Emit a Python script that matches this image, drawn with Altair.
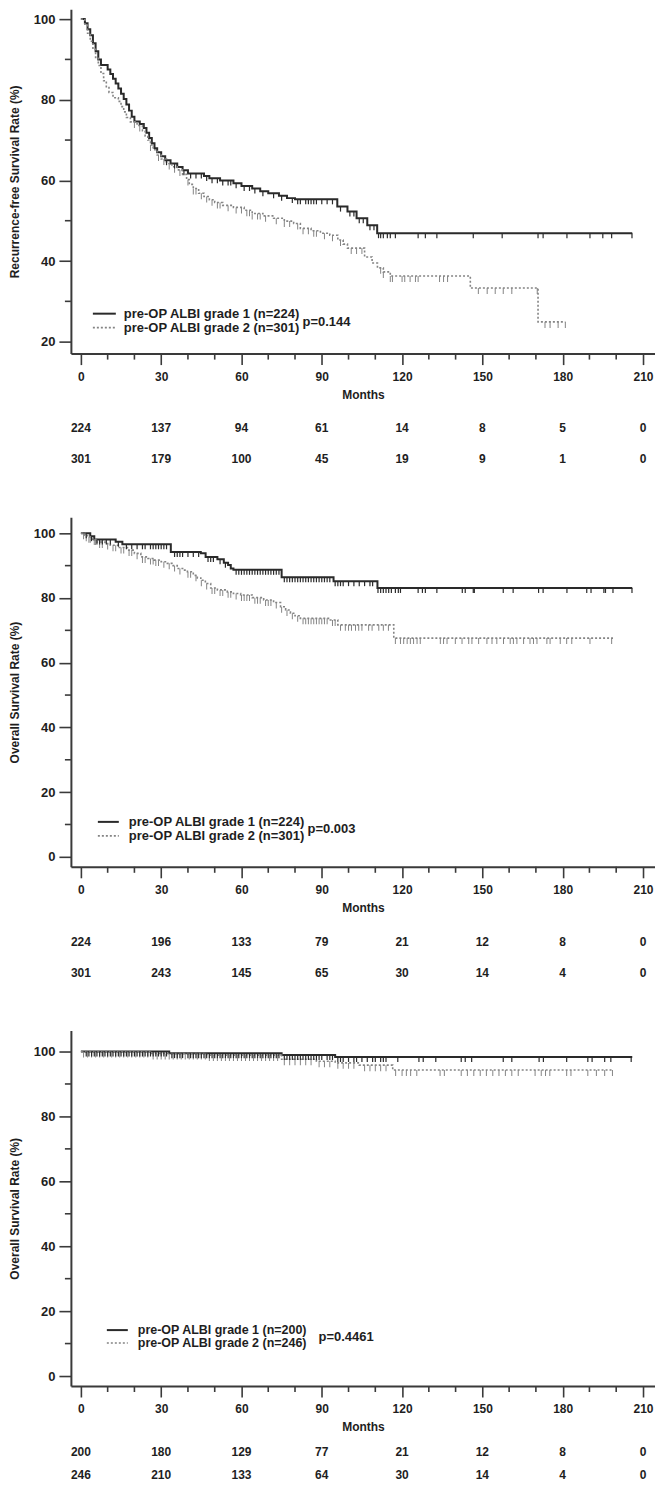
import altair as alt
import pandas as pd

FONT = "Liberation Sans"
TXT = "#1e1e1e"
AX = "#3a3a3a"
C1 = "#2a2a2a"
C2 = "#848484"

# ---------------- x axis (months) ----------------
X_TICKS = [0, 30, 60, 90, 120, 150, 180, 210]
X_MINOR = [10, 20, 40, 50, 70, 80, 100, 110, 130, 140, 160, 170, 190, 200]
X_DOMAIN = [-3.73, 214.5]
W = 585

# ---------------- Panel 1: recurrence-free survival ----------------
P1_YTITLE = "Recurrence-free Survival Rate (%)"
P1_YMAJOR = [20, 40, 60, 80, 100]
P1_YMINOR = [30, 50, 70, 90]
P1_YDOMAIN = [17.04, 102.47]
P1_H = 345
P1_G1_T = [0, 1.5, 2.5, 3.5, 4.5, 5.5, 6.5, 7.5, 10, 11, 12, 13, 14, 15, 16, 17, 18, 19, 20,
           22, 23.5, 24.5, 25.5, 26.5, 27.5, 28.5, 30, 31.5, 33.5, 36, 38, 40,
           46, 48, 52, 57, 60, 64, 67, 70, 74, 77, 80, 95.8, 99.6, 103, 107, 110.7]
P1_G1_S = [100, 99, 97.5, 96, 94, 92, 90, 88.6, 87.5, 86.4, 85.2, 84, 82.8, 81.5, 80.2, 78.8, 77.3, 75.8, 74.6,
           74, 73, 71.8, 70.5, 69.2, 68, 67, 66, 65, 64.2, 63.3, 62.5, 61.7,
           61.1, 60.5, 60, 59.3, 58.6, 58, 57.3, 56.8, 56.2, 55.6, 55.3, 53.5, 52.3, 50.6, 48.9, 46.9]
P1_G1_END = 206
P1_G1_CENS = [32, 35, 38.5, 41, 43, 45, 47, 49, 51, 53, 55, 56, 58, 61, 63, 65, 68, 72, 75, 79, 81, 82, 84,
              85, 86, 87, 88, 90, 92, 94, 97, 100.5, 102, 104, 105.5, 108, 109.5, 111.2, 112, 113, 114.5,
              115.6, 117.5, 126, 128.7, 133, 146.6, 157.4, 170.8, 172.7, 181.6, 190.2, 195, 198.3, 205.9]
P1_G2_T = [0, 1.5, 2.5, 3.5, 4.5, 5.5, 6.5, 7.5, 8.5, 9.5, 10.5, 12, 14, 15, 16, 17, 18.5, 21, 23, 24,
           25, 26, 27, 28.5, 30, 32, 34, 36, 38, 39.5, 40.5, 42, 44, 46, 48, 50, 53, 57, 61, 64,
           68, 72, 76, 79.5, 82, 86, 89.5, 93, 96, 98, 99.6, 106, 108.8, 110.8, 113, 115.6, 145.5, 170.8]
P1_G2_S = [100, 98.5, 96.5, 94.5, 92.5, 90.5, 88.5, 86.5, 84.7, 83, 81.8, 80.5, 79.6, 78.3, 77, 75.6, 74.5, 73.6, 72.3, 71,
           70, 68.8, 67.6, 66.3, 65.3, 64.2, 63.4, 62.6, 61.5, 60.2, 59, 58, 56.8, 56, 55.2, 54.5, 53.8, 53.3, 52.6, 51.8,
           51.2, 50.6, 49.9, 49.3, 48.1, 47.5, 46.9, 46.4, 45.2, 44.2, 43.2, 41, 39.5, 38.3, 37.3, 36.3, 33.3, 24.9]
P1_G2_END = 181
P1_G2_CENS = [20, 22, 26, 29, 31, 33, 35, 37, 40, 42, 43, 45, 47, 49, 51, 52, 55, 58, 60, 62, 63, 64, 66, 67,
              69, 73, 76, 78, 81, 83, 85, 87, 88, 91, 94, 97, 101, 103, 105, 112, 113, 115.6, 116.4, 120, 121,
              123, 125, 126, 134, 135.5, 137, 148.5, 151.8, 154.8, 157.8, 161, 170.5, 173.4, 175.3, 178.3, 181]
P1_RISK1 = [224, 137, 94, 61, 14, 8, 5, 0]
P1_RISK2 = [301, 179, 100, 45, 19, 9, 1, 0]
P1_LEGEND = ["pre-OP ALBI grade 1 (n=224)", "pre-OP ALBI grade 2 (n=301)"]
P1_P = "p=0.144"

# ---------------- Panel 2: overall survival ----------------
P2_YTITLE = "Overall Survival Rate (%)"
P2_YMAJOR = [0, 20, 40, 60, 80, 100]
P2_YMINOR = [10, 30, 50, 70, 90]
P2_YDOMAIN = [-3.08, 104.92]
P2_H = 350
P2_G1_T = [0, 3.5, 5, 13, 15.5, 33.6, 44.8, 46.6, 51, 53.4, 55, 56, 57, 75, 94.4, 110.8]
P2_G1_S = [100, 99.1, 98.1, 97.4, 96.6, 94.2, 93.8, 92.7, 92, 90.9, 90.2, 89.1, 88.7, 86.4, 85.2, 83.1]
P2_G1_END = 206
P2_G1_CENS = [2, 4, 6, 7, 8, 9.5, 11, 14, 17, 19, 21, 23, 24, 26, 27, 28, 29, 30, 31, 32, 35, 36, 37, 38, 40,
              42, 44, 47.5, 48.5, 49.5, 52, 54, 58, 59, 60, 61, 62, 63, 64, 65, 66, 67, 68, 69, 70, 71, 72, 73,
              74, 76, 77, 78, 79, 80, 81, 82, 83, 84, 85, 86, 87, 88, 89, 90, 91, 92, 93, 95, 96, 97, 98, 100,
              102, 104, 106, 108, 109, 111, 112, 113, 114, 115, 116, 117.5, 118.6, 119.4, 126, 127.6, 128.7,
              133, 142.5, 143.6, 146.6, 147, 157.8, 161.5, 171, 172.7, 181.6, 189, 190.6, 195.4, 196, 198.8, 205.9]
P2_G2_T = [0, 1.5, 2.5, 4, 6, 9, 11, 14, 17.4, 20, 22.4, 25, 27.3, 30, 32.3, 34, 36, 38, 39.8, 42,
           43.5, 44.8, 46.5, 48.5, 51, 54.7, 57, 59.7, 64, 68.3, 72, 74.6, 76.5, 78.3, 80, 82, 93.2, 96, 116.9]
P2_G2_S = [100, 99.4, 98.9, 98.2, 97.3, 96.8, 96.3, 95.6, 94.8, 93.8, 92.7, 92.2, 91.7, 91.2, 90.7, 90, 89.1, 88.6, 88.1, 87,
           86.2, 85.5, 84.5, 83.1, 82.5, 81.9, 81.4, 80.9, 80.1, 79.4, 78.6, 77.3, 76.3, 75.3, 74.5, 73.7, 73.2, 71.7, 67.6]
P2_G2_END = 198.8
P2_G2_CENS = [1, 2, 3, 3.5, 5, 5.5, 7, 8, 10, 12, 13, 15, 16, 18, 19, 21, 23, 24, 26, 27, 28, 29, 31, 33, 35,
              37, 40, 41, 43, 45, 47, 49, 50, 52, 53, 55, 56, 58, 60, 61, 62, 63, 65, 66, 67, 69, 70, 71, 73, 75,
              77, 79, 81, 83, 84, 85, 86, 87, 88, 89, 90, 91, 92, 94, 95, 97, 98.8, 100, 101.1, 102.6, 103.8,
              105, 107.5, 108.8, 111.3, 113, 114.9, 117.5, 119.4, 120.6, 121.9, 123.1, 124.3, 125.6, 126.8,
              134.3, 135.5, 136.8, 139.9, 142.4, 144.9, 146.1, 148.6, 151.7, 153.6, 155.4, 157.9, 160.4, 161.6,
              162.9, 165.4, 167.8, 169.1, 170.4, 174.1, 175.3, 179.1, 181.5, 183.4, 190.2, 198.3]
P2_RISK1 = [224, 196, 133, 79, 21, 12, 8, 0]
P2_RISK2 = [301, 243, 145, 65, 30, 14, 4, 0]
P2_LEGEND = ["pre-OP ALBI grade 1 (n=224)", "pre-OP ALBI grade 2 (n=301)"]
P2_P = "p=0.003"

# ---------------- Panel 3: overall survival (subgroup) ----------------
P3_YTITLE = "Overall Survival Rate (%)"
P3_YMAJOR = [0, 20, 40, 60, 80, 100]
P3_YMINOR = [10, 30, 50, 70, 90]
P3_YDOMAIN = [-3.08, 106.46]
P3_H = 356
P3_G1_T = [0, 33, 75, 95]
P3_G1_S = [100, 99.5, 98.9, 98.3]
P3_G1_END = 206
P3_G1_CENS = [2, 3, 4, 5, 6, 7, 8, 9, 10, 11, 12, 13, 14, 15, 16, 17, 18, 19, 20, 21, 22, 23, 24, 25, 26, 27,
              28, 29, 30, 31, 32, 34, 35, 36, 37, 38, 40, 41, 42, 43, 44, 45, 46, 47, 48, 49, 50, 51, 52, 53,
              54, 55, 56, 57, 58, 59, 60, 61, 62, 63, 64, 65, 66, 67, 68, 69, 70, 71, 72, 73, 74, 76, 77, 78,
              79, 80, 81, 82, 83, 84, 85, 86, 87, 88, 89, 90, 92, 93, 94, 96, 97, 98, 100, 102, 103, 105, 107,
              109, 110, 112, 113, 114, 118.4, 126.3, 127.9, 132.6, 142.1, 143.6, 146, 157.8, 161, 171.2,
              172.8, 181.5, 189.4, 191, 195.7, 198, 205.6]
P3_G2_T = [0, 26, 47, 75, 88, 95, 104, 116.5]
P3_G2_S = [100, 99.4, 98.9, 97.6, 97, 96.5, 95.8, 94.3]
P3_G2_END = 198.6
P3_G2_CENS = [1, 2.5, 4, 5.5, 7, 8.5, 10, 11.5, 13, 14.5, 16, 17.5, 19, 20.5, 22, 23.5, 25, 27, 28.5, 30, 31.5,
              33, 34.5, 36, 37.5, 39, 40.5, 42, 43.5, 45, 46.5, 48, 49.5, 51, 52.5, 54, 55.5, 57, 58.5, 60,
              61.5, 63, 64.5, 66, 67.5, 69, 70.5, 72, 73.5, 76, 78, 80, 82, 84, 86, 89, 91, 93, 96, 98, 100,
              102, 106, 108, 110, 112, 114, 117.6, 120, 121.6, 123.2, 125.5, 134.2, 135.8, 142.1, 144.4,
              146.8, 149.2, 151.5, 153.9, 156.2, 158.6, 161, 163.4, 169.7, 172, 173.6, 175.2, 181.5, 183.1,
              189.4, 192.6, 195.7, 198.6]
P3_RISK1 = [200, 180, 129, 77, 21, 12, 8, 0]
P3_RISK2 = [246, 210, 133, 64, 30, 14, 4, 0]
P3_LEGEND = ["pre-OP ALBI grade 1 (n=200)", "pre-OP ALBI grade 2 (n=246)"]
P3_P = "p=0.4461"


def steps(times, surv, end):
    return pd.DataFrame({"t": list(times) + [end], "s": list(surv) + [surv[-1]]})


def level(times, surv, x):
    val = surv[0]
    for ti, si in zip(times, surv):
        if ti <= x:
            val = si
    return val


def censors(times, surv, cens):
    return pd.DataFrame({"t": cens, "s": [level(times, surv, c) for c in cens]})


def panel(H, ydom, ymajor, yminor, ytitle, g1, g2, risk1, risk2, legend, ptext,
          leg_rows, leg_line, leg_text_x, p_pos, risk_y, leg_size):
    xs = alt.Scale(domain=X_DOMAIN, nice=False, zero=False)
    ys = alt.Scale(domain=ydom, nice=False, zero=False)
    xaxis = alt.Axis(values=X_TICKS, title="Months", tickSize=11, tickWidth=1.6, tickColor=AX,
                     domainColor=AX, domainWidth=2, labelFont=FONT, labelFontSize=12,
                     labelFontWeight="bold", labelColor=TXT, labelPadding=7, labelFlush=False,
                     titleFont=FONT, titleFontSize=12, titleFontWeight="bold", titleColor=TXT,
                     titlePadding=7, grid=False)
    yaxis = alt.Axis(values=ymajor, title=ytitle, tickSize=12, tickWidth=1.6, tickColor=AX,
                     domainColor=AX, domainWidth=2, labelFont=FONT, labelFontSize=13,
                     labelFontWeight="bold", labelColor=TXT, labelPadding=4, labelFlush=False,
                     titleFont=FONT, titleFontSize=12, titleFontWeight="bold", titleColor=TXT,
                     titlePadding=12, grid=False)

    def X(f):
        return alt.X(f, scale=xs, axis=xaxis)

    def Y(f):
        return alt.Y(f, scale=ys, axis=yaxis)

    t1, s1, e1, c1 = g1
    t2, s2, e2, c2 = g2

    line1 = alt.Chart(steps(t1, s1, e1)).mark_line(
        interpolate="step-after", color=C1, strokeWidth=2).encode(x=X("t:Q"), y=Y("s:Q"))
    line2 = alt.Chart(steps(t2, s2, e2)).mark_line(
        interpolate="step-after", color=C2, strokeWidth=1.6, strokeDash=[2, 2]).encode(
        x=X("t:Q"), y=Y("s:Q"))
    cen2 = alt.Chart(censors(t2, s2, c2)).mark_tick(
        orient="vertical", size=6, thickness=1, yOffset=3, color=C2, opacity=1).encode(
        x=X("t:Q"), y=Y("s:Q"))
    cen1 = alt.Chart(censors(t1, s1, c1)).mark_tick(
        orient="vertical", size=5, thickness=1.2, yOffset=2.5, color=C1, opacity=1).encode(
        x=X("t:Q"), y=Y("s:Q"))

    xminor = alt.Chart(pd.DataFrame({"t": X_MINOR})).mark_rule(color=AX, strokeWidth=1.6).encode(
        x=X("t:Q"), y=alt.value(H), y2=alt.value(H + 6))
    yminor_l = alt.Chart(pd.DataFrame({"s": yminor})).mark_rule(color=AX, strokeWidth=1.6).encode(
        y=Y("s:Q"), x=alt.value(-6), x2=alt.value(0))

    risk_layers = []
    for row, yv in zip([risk1, risk2], risk_y):
        df = pd.DataFrame({"t": X_TICKS, "n": [str(v) for v in row]})
        risk_layers.append(alt.Chart(df).mark_text(
            font=FONT, fontSize=12, fontWeight="bold", color=TXT, baseline="middle").encode(
            x=X("t:Q"), y=alt.value(H + yv), text="n:N"))

    one = pd.DataFrame({"a": [0]})
    leg = []
    leg.append(alt.Chart(one).mark_rule(color=C1, strokeWidth=2).encode(
        x=alt.value(leg_line[0]), x2=alt.value(leg_line[1]), y=alt.value(leg_rows[0])))
    leg.append(alt.Chart(one).mark_rule(color=C2, strokeWidth=1.6, strokeDash=[2, 2]).encode(
        x=alt.value(leg_line[0]), x2=alt.value(leg_line[1]), y=alt.value(leg_rows[1])))
    for txt, yv in zip(legend, leg_rows):
        leg.append(alt.Chart(one).mark_text(
            font=FONT, fontSize=leg_size, fontWeight="bold", color=TXT, align="left",
            baseline="middle").encode(
            x=alt.value(leg_text_x), y=alt.value(yv), text=alt.value(txt)))
    leg.append(alt.Chart(one).mark_text(
        font=FONT, fontSize=13, fontWeight="bold", color=TXT, align="left", baseline="middle").encode(
        x=alt.value(p_pos[0]), y=alt.value(p_pos[1]), text=alt.value(ptext)))

    return alt.layer(line1, line2, cen2, cen1, xminor, yminor_l, *risk_layers, *leg).properties(
        width=W, height=H)


p1 = panel(P1_H, P1_YDOMAIN, P1_YMAJOR, P1_YMINOR, P1_YTITLE,
           (P1_G1_T, P1_G1_S, P1_G1_END, P1_G1_CENS), (P1_G2_T, P1_G2_S, P1_G2_END, P1_G2_CENS),
           P1_RISK1, P1_RISK2, P1_LEGEND, P1_P,
           leg_rows=(305, 319), leg_line=(22, 45), leg_text_x=53, p_pos=(232, 313), risk_y=(75, 106),
           leg_size=13)
p2 = panel(P2_H, P2_YDOMAIN, P2_YMAJOR, P2_YMINOR, P2_YTITLE,
           (P2_G1_T, P2_G1_S, P2_G1_END, P2_G1_CENS), (P2_G2_T, P2_G2_S, P2_G2_END, P2_G2_CENS),
           P2_RISK1, P2_RISK2, P2_LEGEND, P2_P,
           leg_rows=(305, 319), leg_line=(27, 48), leg_text_x=58, p_pos=(237, 312), risk_y=(75, 106),
           leg_size=13)
p3 = panel(P3_H, P3_YDOMAIN, P3_YMAJOR, P3_YMINOR, P3_YTITLE,
           (P3_G1_T, P3_G1_S, P3_G1_END, P3_G1_CENS), (P3_G2_T, P3_G2_S, P3_G2_END, P3_G2_CENS),
           P3_RISK1, P3_RISK2, P3_LEGEND, P3_P,
           leg_rows=(300, 313), leg_line=(36, 57), leg_text_x=67, p_pos=(248, 307), risk_y=(66, 89),
           leg_size=12.5)

chart = alt.vconcat(p1, p2, p3, spacing=164, bounds="flush").properties(
    padding=0, background="white").configure_view(strokeWidth=0)

chart.save("out.html", embed_options={"renderer": "svg", "actions": False})
